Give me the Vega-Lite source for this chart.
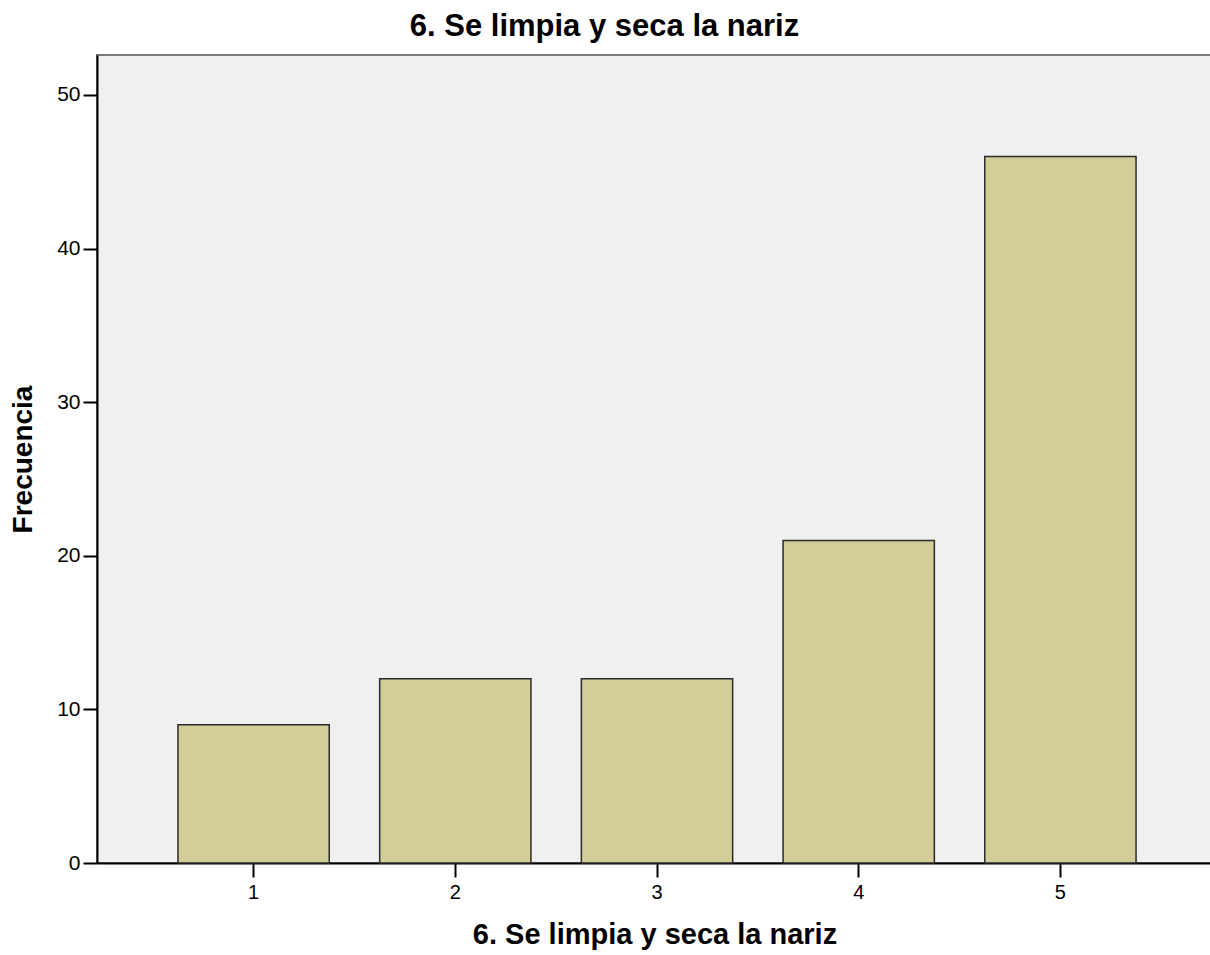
{
  "$schema": "https://vega.github.io/schema/vega-lite/v6.json",
  "width": 1115,
  "height": 808,
  "autosize": "none",
  "padding": {"left": 97, "top": 55, "right": 0, "bottom": 92},
  "background": "white",
  "title": {
    "text": "6. Se limpia y seca la nariz",
    "font": "Liberation Sans",
    "fontSize": 31,
    "fontWeight": "bold",
    "color": "#000000",
    "anchor": "middle",
    "dx": -50,
    "offset": 12
  },
  "config": {
    "view": {"fill": "#F0F0F0", "stroke": "#7a7a7a", "strokeWidth": 2},
    "axis": {
      "labelFont": "Liberation Sans",
      "labelColor": "#000000",
      "titleFont": "Liberation Sans",
      "titleFontWeight": "bold",
      "titleColor": "#000000",
      "domainColor": "#000000",
      "domainWidth": 2,
      "tickColor": "#000000",
      "tickWidth": 2,
      "tickSize": 14,
      "grid": false
    }
  },
  "data": {
    "values": [
      {"respuesta": "1", "frecuencia": 9},
      {"respuesta": "2", "frecuencia": 12},
      {"respuesta": "3", "frecuencia": 12},
      {"respuesta": "4", "frecuencia": 21},
      {"respuesta": "5", "frecuencia": 46}
    ]
  },
  "mark": {"type": "bar", "fill": "#D3CE97", "stroke": "#2a2a2a", "strokeWidth": 1.5},
  "encoding": {
    "x": {
      "field": "respuesta",
      "type": "ordinal",
      "scale": {"paddingInner": 0.25, "paddingOuter": 0.389, "align": 0.516},
      "axis": {
        "title": "6. Se limpia y seca la nariz",
        "labelAngle": 0,
        "labelFontSize": 20,
        "labelPadding": 5,
        "titleFontSize": 29,
        "titlePadding": 18
      }
    },
    "y": {
      "field": "frecuencia",
      "type": "quantitative",
      "scale": {"domain": [0, 52.6], "nice": false},
      "axis": {
        "title": "Frecuencia",
        "values": [0, 10, 20, 30, 40, 50],
        "labelFontSize": 21,
        "labelPadding": 3,
        "titleFontSize": 28,
        "titlePadding": 19
      }
    }
  }
}
